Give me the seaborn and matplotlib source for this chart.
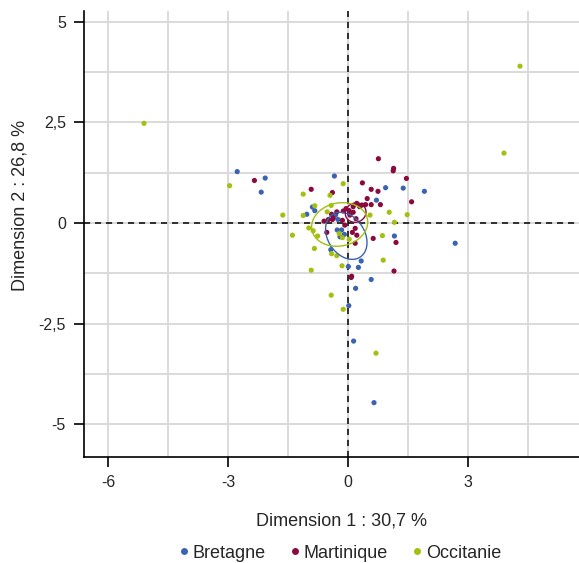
import numpy as np
import pandas as pd
import matplotlib
matplotlib.use("Agg")
import matplotlib.pyplot as plt
from matplotlib.ticker import FixedLocator, MultipleLocator, FuncFormatter
import seaborn as sns

# ---- data ----
groups = ["Bretagne", "Martinique", "Occitanie"]

bretagne_x = [-2.77, -2.07, -2.17, 1.91, 2.68, -0.34, -0.89, -0.83, -1.03, 0.94, 1.38, 0.71,
              -0.39, -0.31, -0.25, -0.27, -0.16, -0.20, -0.09, -0.43, 0.01, 1.16, 0.33, 0.26,
              0.58, 0.19, 0.02, 0.14, 0.65]
bretagne_y = [1.28, 1.12, 0.77, 0.79, -0.50, 1.17, 0.40, 0.31, 0.22, 0.88, 0.87, 0.57,
              0.20, 0.20, 0.09, -0.17, -0.17, -0.34, -0.28, -0.66, -1.08, -0.32, -0.94, -1.10,
              -1.40, -1.62, -2.05, -2.93, -4.46]

martinique_x = [-2.34, 0.76, 1.14, 1.13, 1.46, 0.36, 0.58, 0.75, 1.59, 0.48, 0.58, 0.81,
                0.44, 0.22, 0.35, -0.92, -0.39, 0.13, 0.29, -0.05, 0.03, -0.12, -0.28, -0.41,
                0.20, 0.05, 0.13, -0.49, -0.39, -0.60, -0.14, -0.08, -0.53, 0.18, 0.11, 0.22,
                0.18, 0.63, 1.20, 1.15, 0.09, 0.08, -0.37]
martinique_y = [1.06, 1.60, 1.36, 1.30, 1.11, 1.00, 0.84, 0.79, 0.53, 0.61, 0.46, 0.46,
                0.46, 0.49, 0.45, 0.84, 0.76, 0.41, 0.41, 0.36, 0.31, 0.30, 0.28, 0.22,
                0.11, 0.20, 0.27, 0.09, 0.09, 0.05, 0.07, -0.05, -0.23, -0.13, -0.23, -0.30,
                -0.50, -0.38, -0.48, -1.19, -1.32, -1.35, 0.12]

occitanie_x = [-5.10, 4.30, 3.90, -2.96, -1.63, -0.12, -1.12, -0.45, -0.83, -0.42, -1.12,
               -0.52, 1.03, 1.48, 0.55, 1.16, -0.98, -0.87, -0.76, -1.39, -0.22, -0.14, 0.03,
               0.86, -0.84, -0.41, -0.28, -0.15, -0.92, 0.88, -0.42, -0.12, 0.70]
occitanie_y = [2.48, 3.90, 1.74, 0.93, 0.20, 0.98, 0.72, 0.69, 0.43, 0.44, 0.19,
               0.28, 0.27, 0.21, 0.20, 0.02, -0.12, -0.19, -0.32, -0.30, -0.26, -0.36, -0.40,
               -0.31, -0.63, -0.76, -0.81, -1.06, -1.17, -0.92, -1.79, -2.14, -3.23]

x_ticks = [-6, -3, 0, 3]
y_ticks = [5, 2.5, 0, -2.5, -5]
x_title = "Dimension 1 : 30,7 %"
y_title = "Dimension 2 : 26,8 %"

colors = {"Bretagne": "#3A64B2", "Martinique": "#8A0A3D", "Occitanie": "#A5BF10"}

df = pd.concat([
    pd.DataFrame({"x": bretagne_x, "y": bretagne_y, "region": "Bretagne"}),
    pd.DataFrame({"x": martinique_x, "y": martinique_y, "region": "Martinique"}),
    pd.DataFrame({"x": occitanie_x, "y": occitanie_y, "region": "Occitanie"}),
], ignore_index=True)

# ---- figure ----
sns.set_theme(style="white")
plt.rcParams["font.family"] = ["Liberation Sans", "DejaVu Sans"]

W, H = 579, 563
ax_l, ax_r, ax_t, ax_b = 84, 598, 11, 457
fig = plt.figure(figsize=(W / 100, H / 100), dpi=100)
ax = fig.add_axes([ax_l / W, (H - ax_b) / H, (ax_r - ax_l) / W, (ax_b - ax_t) / H])

ax.set_xlim(-6.6, 6.25)
ax.set_ylim(-5.81, 5.27)

# grid (major + half steps)
ax.xaxis.set_major_locator(FixedLocator(x_ticks))
ax.yaxis.set_major_locator(FixedLocator(y_ticks))
ax.xaxis.set_minor_locator(MultipleLocator(1.5))
ax.yaxis.set_minor_locator(MultipleLocator(1.25))
ax.grid(which="both", color="#DADADA", linewidth=1.4, zorder=0)
ax.set_axisbelow(True)
ax.tick_params(which="minor", length=0)

ax.axhline(0, color="black", linestyle=(0, (4, 3.2)), linewidth=1.1, zorder=1)
ax.axvline(0, color="black", linestyle=(0, (4, 3.2)), linewidth=1.1, zorder=1)

sns.scatterplot(data=df, x="x", y="y", hue="region", hue_order=groups,
                palette=colors, s=14, linewidth=0, ax=ax, zorder=3, legend=False)

# confidence ellipses of the group means
chi2_95 = 5.991
t = np.linspace(0, 2 * np.pi, 200)
for g in groups:
    sub = df[df.region == g]
    m = sub[["x", "y"]].mean().values
    cov = np.cov(sub["x"], sub["y"]) / len(sub)
    vals, vecs = np.linalg.eigh(cov)
    pts = (vecs @ (np.sqrt(vals * chi2_95)[:, None] * np.vstack([np.cos(t), np.sin(t)]))).T + m
    ax.plot(pts[:, 0], pts[:, 1], color=colors[g], linewidth=1.0, zorder=4)

fmt = FuncFormatter(lambda v, p: (f"{v:g}").replace(".", ","))
ax.xaxis.set_major_formatter(fmt)
ax.yaxis.set_major_formatter(fmt)
ax.tick_params(which="major", direction="out", length=7, width=1.2, color="black",
               labelsize=11.5, pad=6, bottom=True, left=True)

for s in ["top", "right"]:
    ax.spines[s].set_visible(False)
for s in ["left", "bottom"]:
    ax.spines[s].set_color("black")
    ax.spines[s].set_linewidth(1.2)

ax.set_xlabel(x_title, fontsize=13)
ax.set_ylabel(y_title, fontsize=13)
ax.xaxis.label.set_va("center")
ax.yaxis.label.set_va("center")
ax.xaxis.set_label_coords((341 - ax_l) / (ax_r - ax_l), (ax_b - 521) / (ax_b - ax_t))
ax.yaxis.set_label_coords((20 - ax_l) / (ax_r - ax_l), (ax_b - 205) / (ax_b - ax_t))

handles = [plt.Line2D([], [], marker="o", linestyle="", markersize=5,
                      markerfacecolor=colors[g], markeredgewidth=0) for g in groups]
fig.legend(handles, groups, loc="center", bbox_to_anchor=(338 / W, 1 - 553 / H), ncol=3,
           frameon=False, fontsize=13, handletextpad=0.0, columnspacing=1.1,
           handlelength=1.0)

fig.savefig("out.png", dpi=100)
